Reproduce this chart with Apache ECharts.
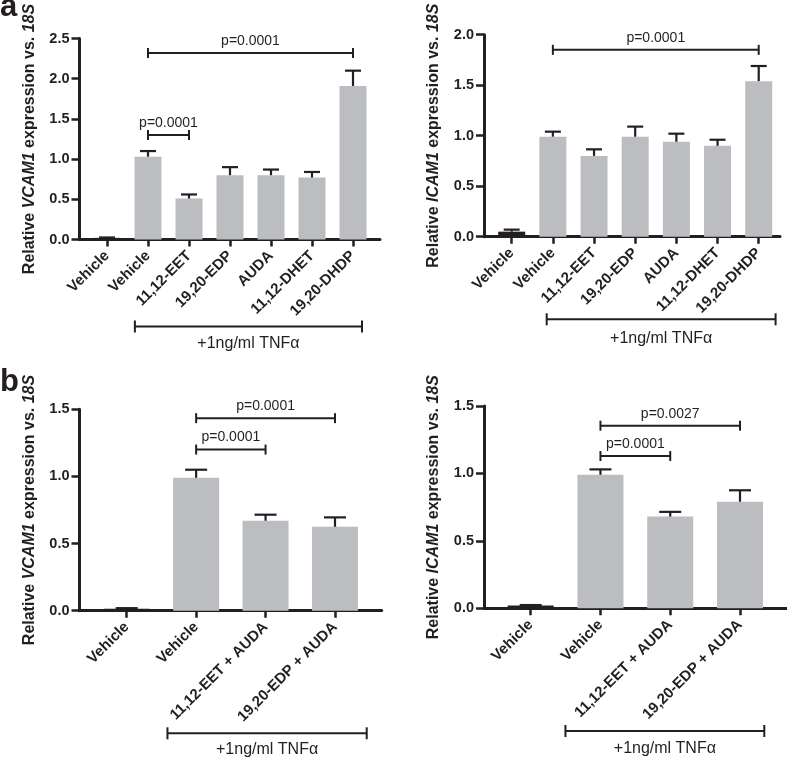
<!DOCTYPE html>
<html>
<head>
<meta charset="utf-8">
<script src="https://cdn.jsdelivr.net/npm/echarts@6/dist/echarts.min.js"></script>
<style>html,body{margin:0;padding:0;background:#fff}#c{width:787px;height:758px}</style>
</head>
<body>
<div id="c"></div>
<script>
// ---------- data ----------
const catsA = ['Vehicle', 'Vehicle', '11,12-EET', '19,20-EDP', 'AUDA', '11,12-DHET', '19,20-DHDP'];
const vcamA = [0.02, 1.03, 0.51, 0.80, 0.80, 0.77, 1.91];
const vcamAErr = [0.005, 0.07, 0.05, 0.10, 0.07, 0.07, 0.19];
const icamA = [0.05, 0.99, 0.80, 0.99, 0.94, 0.90, 1.54];
const icamAErr = [0.02, 0.05, 0.065, 0.10, 0.08, 0.06, 0.15];

const catsB = ['Vehicle', 'Vehicle', '11,12-EET + AUDA', '19,20-EDP + AUDA'];
const vcamB = [0.015, 0.99, 0.67, 0.625];
const vcamBErr = [0.004, 0.06, 0.045, 0.07];
const icamB = [0.02, 0.99, 0.68, 0.79];
const icamBErr = [0.004, 0.04, 0.035, 0.085];

const sigVcamA = [{from: 1, to: 6, y: 2.32, label: 'p=0.0001'}, {from: 1, to: 2, y: 1.30, label: 'p=0.0001'}];
const sigIcamA = [{from: 1, to: 6, y: 1.85, label: 'p=0.0001'}];
const sigVcamB = [{from: 1, to: 3, y: 1.434, label: 'p=0.0001'}, {from: 1, to: 2, y: 1.20, label: 'p=0.0001'}];
const sigIcamB = [{from: 1, to: 3, y: 1.354, label: 'p=0.0027'}, {from: 1, to: 2, y: 1.129, label: 'p=0.0001'}];

const yTicksA1 = [0, 2.5, 0.5];
const yTicksA2 = [0, 2.0, 0.5];
const yTicksB = [0, 1.5, 0.5];
const treatLabel = '+1ng/ml TNF\u03b1';

// ---------- styling / layout ----------
const FONT = '"Liberation Sans", Arial, Helvetica, sans-serif';
const INK = '#231f20';
const GRAY = '#bcbdc0';

const panels = [
  {gene: 'VCAM1', cats: catsA, vals: vcamA, errs: vcamAErr, sig: sigVcamA, ticks: yTicksA1,
   frame: {left: 79.5, top: 38.5, width: 300.5, height: 201}, inner: {left: 86.5, width: 287},
   barW: 27, capW: 16, tnf: {from: 0.68, to: 6.22, dy: 87, ty: 104}},
  {gene: 'ICAM1', cats: catsA, vals: icamA, errs: icamAErr, sig: sigIcamA, ticks: yTicksA2,
   frame: {left: 484, top: 34.7, width: 296, height: 202}, inner: {left: 491.1, width: 288.2},
   barW: 27, capW: 16, tnf: {from: 0.85, to: 6.41, dy: 82.6, ty: 102}},
  {gene: 'VCAM1', cats: catsB, vals: vcamB, errs: vcamBErr, sig: sigVcamB, ticks: yTicksB,
   frame: {left: 79.5, top: 409.3, width: 302.2, height: 201.4}, inner: {left: 92, width: 277.7},
   barW: 46, capW: 22, tnf: {from: 0.587, to: 3.457, dy: 122.6, ty: 139}},
  {gene: 'ICAM1', cats: catsB, vals: icamB, errs: icamBErr, sig: sigIcamB, ticks: yTicksB,
   frame: {left: 484, top: 406, width: 303, height: 202.3}, inner: {left: 495.8, width: 279.1},
   barW: 46, capW: 22, tnf: {from: 0.498, to: 3.348, dy: 122.7, ty: 140}}
];

const grid = [], xAxis = [], yAxis = [], series = [];
const axisLineStyle = {color: INK, width: 3};

function catX(api, v) {
  const a = api.coord([0, 0])[0];
  const b = api.coord([1, 0])[0];
  return a + (b - a) * v;
}

panels.forEach((p, k) => {
  const gF = 2 * k, gI = 2 * k + 1;
  const [ymin, ymax, yint] = p.ticks;
  grid.push({left: p.frame.left, top: p.frame.top, width: p.frame.width, height: p.frame.height});
  grid.push({left: p.inner.left, top: p.frame.top, width: p.inner.width, height: p.frame.height});

  xAxis.push({gridIndex: gF, type: 'value', min: 0, max: 1,
    axisLine: {show: true, onZero: false, lineStyle: axisLineStyle},
    axisTick: {show: false}, axisLabel: {show: false}, splitLine: {show: false}});
  xAxis.push({gridIndex: gI, type: 'category', data: p.cats,
    axisLine: {show: false, onZero: false},
    axisTick: {show: true, alignWithLabel: true, length: 7, lineStyle: {color: INK, width: 2.5}},
    axisLabel: {rotate: 45, margin: 14, interval: 0, color: INK, fontFamily: FONT, fontWeight: 'bold', fontSize: 15},
    splitLine: {show: false}});

  yAxis.push({gridIndex: gF, type: 'value', min: ymin, max: ymax, interval: yint,
    axisLine: {show: true, lineStyle: axisLineStyle},
    axisTick: {show: true, length: 8, lineStyle: {color: INK, width: 2.5}},
    axisLabel: {margin: 10, color: INK, fontFamily: FONT, fontWeight: 'bold', fontSize: 14.5,
      formatter: v => v.toFixed(1)},
    splitLine: {show: false},
    name: '{b|Relative }{i|' + p.gene + '}{b| expression vs. }{i|18S}',
    nameLocation: 'middle', nameRotate: 90, nameGap: 42,
    nameTextStyle: {rich: {
      b: {fontFamily: FONT, fontWeight: 'bold', fontSize: 16, color: INK},
      i: {fontFamily: FONT, fontWeight: 'bold', fontStyle: 'italic', fontSize: 16, color: INK}
    }}});
  yAxis.push({gridIndex: gI, type: 'value', min: ymin, max: ymax, interval: yint, show: false});

  series.push({type: 'bar', xAxisIndex: gI, yAxisIndex: gI, barWidth: p.barW, animation: false,
    data: p.vals.map((v, i) => ({value: v, itemStyle: {color: i === 0 ? INK : GRAY}}))});

  // error bars (upper SEM)
  series.push({type: 'custom', xAxisIndex: gI, yAxisIndex: gI, animation: false, clip: false, z: 3,
    data: p.vals.map((v, i) => [i, v, p.errs[i]]),
    renderItem: (params, api) => {
      const i = api.value(0), v = api.value(1), e = api.value(2);
      const b = api.coord([i, v]);
      const t = api.coord([i, v + e]);
      const s = {stroke: INK, lineWidth: 2.2};
      return {type: 'group', children: [
        {type: 'line', shape: {x1: b[0], y1: b[1], x2: t[0], y2: t[1]}, style: s},
        {type: 'line', shape: {x1: t[0] - p.capW / 2, y1: t[1], x2: t[0] + p.capW / 2, y2: t[1]}, style: s}
      ]};
    }});

  // significance brackets
  series.push({type: 'custom', xAxisIndex: gI, yAxisIndex: gI, animation: false, clip: false, z: 4,
    data: p.sig.map(s => [s.from, s.y]),
    renderItem: (params, api) => {
      const s = p.sig[params.dataIndex];
      const a = api.coord([s.from, s.y]);
      const b = api.coord([s.to, s.y]);
      const st = {stroke: INK, lineWidth: 2};
      return {type: 'group', children: [
        {type: 'line', shape: {x1: a[0], y1: a[1], x2: b[0], y2: b[1]}, style: st},
        {type: 'line', shape: {x1: a[0], y1: a[1] - 5, x2: a[0], y2: a[1] + 5}, style: st},
        {type: 'line', shape: {x1: b[0], y1: b[1] - 5, x2: b[0], y2: b[1] + 5}, style: st},
        {type: 'text', style: {text: s.label, x: (a[0] + b[0]) / 2, y: a[1] - 12,
          align: 'center', verticalAlign: 'middle', textAlign: 'center', textVerticalAlign: 'middle',
          font: '14px ' + FONT, fill: INK}}
      ]};
    }});

  // treatment bracket under axis
  series.push({type: 'custom', xAxisIndex: gI, yAxisIndex: gI, animation: false, clip: false, z: 4,
    data: [[0, 0]],
    renderItem: (params, api) => {
      const y0 = api.coord([0, 0])[1];
      const x1 = catX(api, p.tnf.from), x2 = catX(api, p.tnf.to);
      const y = y0 + p.tnf.dy;
      const st = {stroke: INK, lineWidth: 2};
      return {type: 'group', children: [
        {type: 'line', shape: {x1: x1, y1: y, x2: x2, y2: y}, style: st},
        {type: 'line', shape: {x1: x1, y1: y - 6, x2: x1, y2: y + 6}, style: st},
        {type: 'line', shape: {x1: x2, y1: y - 6, x2: x2, y2: y + 6}, style: st},
        {type: 'text', style: {text: treatLabel, x: (x1 + x2) / 2, y: y0 + p.tnf.ty,
          align: 'center', verticalAlign: 'middle', textAlign: 'center', textVerticalAlign: 'middle',
          font: '16px ' + FONT, fill: INK}}
      ]};
    }});
});

const chart = echarts.init(document.getElementById('c'), null, {renderer: 'canvas'});
chart.setOption({
  animation: false,
  backgroundColor: '#fff',
  grid, xAxis, yAxis, series,
  graphic: [
    {type: 'text', style: {text: 'a', x: 0, y: 7, verticalAlign: 'middle', textVerticalAlign: 'middle',
      font: 'bold 31px ' + FONT, fill: INK}},
    {type: 'text', style: {text: 'b', x: 0, y: 382, verticalAlign: 'middle', textVerticalAlign: 'middle',
      font: 'bold 31px ' + FONT, fill: INK}}
  ]
});
</script>
</body>
</html>
